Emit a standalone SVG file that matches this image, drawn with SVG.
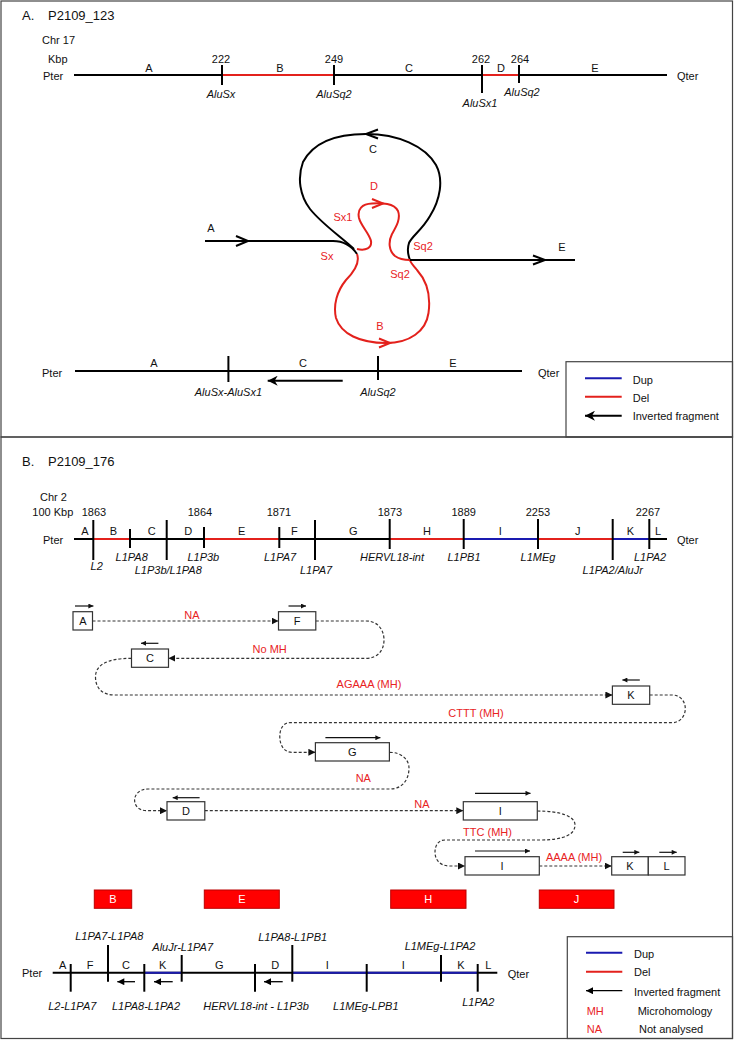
<svg xmlns="http://www.w3.org/2000/svg" width="734" height="1040" viewBox="0 0 734 1040">
<style>
text{font-family:"Liberation Sans",Arial,Helvetica,sans-serif;font-size:11px;fill:#111}
.ttl{font-size:13px}
.m{text-anchor:middle}
.i{font-style:italic}
.r{fill:#e8231f}
.w{fill:#fff}
.frame{fill:none;stroke:#444;stroke-width:1.2}
.chr{stroke:#000;stroke-width:2;fill:none}
.del{stroke:#e3211c;stroke-width:2;fill:none}
.dup{stroke:#1a1ab0;stroke-width:2;fill:none}
.tk{stroke:#000;stroke-width:2}
.loopk{stroke:#000;stroke-width:2;fill:none}
.loopr{stroke:#e3211c;stroke-width:2;fill:none}
.dash{stroke:#333;stroke-width:1.2;stroke-dasharray:3 2;fill:none;marker-end:url(#tri)}
.box{fill:#fff;stroke:#333;stroke-width:1.2}
.sa{stroke:#111;stroke-width:1.2;fill:none;marker-end:url(#sm)}
.inv{stroke:#000;stroke-width:2;fill:none;marker-end:url(#big)}
.invs{stroke:#000;stroke-width:1.3;fill:none;marker-end:url(#mid)}
.redbox{fill:#f00;stroke:#b00;stroke-width:1}
</style>
<defs>
<marker id="tri" viewBox="0 0 10 10" refX="10" refY="5" markerWidth="7" markerHeight="7" markerUnits="userSpaceOnUse" orient="auto"><path d="M0,0 L10,5 L0,10 z" fill="#111"/></marker>
<marker id="sm" viewBox="0 0 10 10" refX="10" refY="5" markerWidth="6" markerHeight="5" markerUnits="userSpaceOnUse" orient="auto"><path d="M0,0 L10,5 L0,10 z" fill="#111"/></marker>
<marker id="big" viewBox="0 0 10 10" refX="10" refY="5" markerWidth="11" markerHeight="10" markerUnits="userSpaceOnUse" orient="auto"><path d="M0,0 L10,5 L0,10 L3,5 z" fill="#000"/></marker>
<marker id="mid" viewBox="0 0 10 10" refX="10" refY="5" markerWidth="8" markerHeight="7" markerUnits="userSpaceOnUse" orient="auto"><path d="M0,0 L10,5 L0,10 z" fill="#000"/></marker>
</defs>
<rect width="734" height="1040" fill="#fff"/>

<!-- Panel A -->
<g id="panelA">
<rect class="frame" x="1" y="1" width="731.5" height="436"/>
<text class="ttl" x="22" y="19.5">A.</text>
<text class="ttl" x="48" y="19.5">P2109_123</text>
<text x="42" y="44">Chr 17</text>
<text x="48" y="63">Kbp</text>
<text x="43" y="80">Pter</text>
<text x="677" y="80">Qter</text>
<line class="chr" x1="74" y1="75" x2="667" y2="75"/>
<line class="del" x1="222" y1="75" x2="334" y2="75"/>
<line class="del" x1="482" y1="75" x2="519" y2="75"/>
<line class="tk" x1="222" y1="65" x2="222" y2="85"/>
<line class="tk" x1="334" y1="65" x2="334" y2="85"/>
<line class="tk" x1="482" y1="65" x2="482" y2="93"/>
<line class="tk" x1="519" y1="65" x2="519" y2="83"/>
<text class="m" x="221" y="63">222</text>
<text class="m" x="334" y="63">249</text>
<text class="m" x="481" y="63">262</text>
<text class="m" x="520" y="63">264</text>
<text class="m" x="149" y="72">A</text>
<text class="m" x="280" y="72">B</text>
<text class="m" x="409" y="72">C</text>
<text class="m" x="501" y="72">D</text>
<text class="m" x="595" y="72">E</text>
<text class="m i" x="221" y="98">AluSx</text>
<text class="m i" x="334" y="98">AluSq2</text>
<text class="m i" x="480" y="107">AluSx1</text>
<text class="m i" x="522" y="96">AluSq2</text>
</g>

<g id="loop">
<path class="loopk" d="M205,241 L333,241 C343,241 351,245 357,254"/>
<path class="loopk" d="M236,236 L248,241 L236,246"/>
<path class="loopk" d="M354,249 C340,236 322,224 310,209 C300,196 297,178 303,162 C312,145 332,134 366,134 C398,134 425,146 436,165 C444,180 440,200 430,216 C422,230 412,236 409,243 C407,249 408,255 410,260"/>
<path class="loopk" d="M378,129.5 L366,134 L378,138.5"/>
<path class="loopr" d="M357,254 C360,262 355,271 346,280 C337,291 333,305 336,318 C341,334 360,343 386,343 C410,343 426,331 428.5,313 C431,295 426,280 417,270 C413,265 410,262 410,260"/>
<path class="loopr" d="M379,338.5 L390,343 L379,347.5"/>
<path class="loopr" d="M357,249 C366,251 372,248 371,241 C369,233 361,226 359,218 C357,209 362,204 372,203.5 C382,203 394,203 398,211 C401,219 396,227 392,234 C388,242 389,251 395,256 C399,259 405,260 410,260"/>
<path class="loopr" d="M372,199 L383,203.5 L372,208"/>
<path class="loopk" d="M410,260 L575,260"/>
<path class="loopk" d="M533,255.5 L545,260 L533,264.5"/>
<text class="m" x="211" y="232">A</text>
<text class="m" x="373" y="153">C</text>
<text class="m r" x="374" y="190">D</text>
<text class="m r" x="343" y="221">Sx1</text>
<text class="m r" x="327" y="260">Sx</text>
<text class="m r" x="423" y="250">Sq2</text>
<text class="m r" x="400" y="278">Sq2</text>
<text class="m" x="562" y="251">E</text>
<text class="m r" x="380" y="330">B</text>
</g>

<g id="resultA">
<text x="42" y="377">Pter</text>
<text x="538" y="377">Qter</text>
<line class="chr" x1="75" y1="371" x2="522" y2="371"/>
<line class="tk" x1="228.4" y1="356" x2="228.4" y2="382"/>
<line class="tk" x1="378" y1="356" x2="378" y2="380"/>
<text class="m" x="154" y="367">A</text>
<text class="m" x="303" y="367">C</text>
<text class="m" x="453" y="367">E</text>
<line class="inv" x1="342.7" y1="380.7" x2="267.7" y2="380.7"/>
<text class="m i" x="228.4" y="396">AluSx-AluSx1</text>
<text class="m i" x="378" y="396">AluSq2</text>
</g>

<g id="legendA">
<rect x="566" y="361.7" width="166.5" height="75.3" fill="none" stroke="#444" stroke-width="1.2"/>
<line class="dup" x1="585" y1="378.3" x2="621.7" y2="378.3"/>
<text x="632.7" y="383.5">Dup</text>
<line class="del" x1="585" y1="396.7" x2="621.7" y2="396.7"/>
<text x="632.7" y="402">Del</text>
<line class="inv" x1="621.7" y1="415.7" x2="585" y2="415.7"/>
<text x="632.7" y="420">Inverted fragment</text>
</g>

<!-- Panel B -->
<g id="panelB">
<rect class="frame" x="1" y="437" width="731.5" height="601.5"/>
<text class="ttl" x="22" y="466">B.</text>
<text class="ttl" x="48" y="466">P2109_176</text>
<text x="40" y="501">Chr 2</text>
<text x="32.3" y="516">100 Kbp</text>
<text x="43" y="544">Pter</text>
<text x="677" y="544">Qter</text>
<line class="chr" x1="74" y1="539" x2="667" y2="539"/>
<line class="del" x1="93.3" y1="539" x2="130" y2="539"/>
<line class="del" x1="204" y1="539" x2="279.3" y2="539"/>
<line class="del" x1="389.7" y1="539" x2="463.7" y2="539"/>
<line class="dup" x1="463.7" y1="539" x2="538" y2="539"/>
<line class="del" x1="538" y1="539" x2="612.7" y2="539"/>
<line class="dup" x1="612.7" y1="539" x2="649.3" y2="539"/>
<line class="tk" x1="93.3" y1="520" x2="93.3" y2="560"/>
<line class="tk" x1="130" y1="529" x2="130" y2="548"/>
<line class="tk" x1="166.7" y1="520" x2="166.7" y2="560"/>
<line class="tk" x1="204" y1="527" x2="204" y2="548"/>
<line class="tk" x1="279.3" y1="527" x2="279.3" y2="548"/>
<line class="tk" x1="315" y1="520" x2="315" y2="560"/>
<line class="tk" x1="389.7" y1="519" x2="389.7" y2="549"/>
<line class="tk" x1="463.7" y1="519" x2="463.7" y2="549"/>
<line class="tk" x1="538" y1="519" x2="538" y2="549"/>
<line class="tk" x1="612.7" y1="519" x2="612.7" y2="560"/>
<line class="tk" x1="649.3" y1="519" x2="649.3" y2="549"/>
<text class="m" x="94" y="516">1863</text>
<text class="m" x="200" y="516">1864</text>
<text class="m" x="279" y="516">1871</text>
<text class="m" x="390" y="516">1873</text>
<text class="m" x="463.7" y="516">1889</text>
<text class="m" x="538" y="516">2253</text>
<text class="m" x="648" y="516">2267</text>
<text class="m" x="85" y="535">A</text>
<text class="m" x="113.3" y="535">B</text>
<text class="m" x="151.7" y="535">C</text>
<text class="m" x="188.3" y="535">D</text>
<text class="m" x="241.7" y="535">E</text>
<text class="m" x="294.3" y="535">F</text>
<text class="m" x="353.3" y="535">G</text>
<text class="m" x="427" y="535">H</text>
<text class="m" x="500.3" y="535">I</text>
<text class="m" x="577.7" y="535">J</text>
<text class="m" x="630.3" y="535">K</text>
<text class="m" x="658" y="535">L</text>
<text class="m i" x="96.7" y="570">L2</text>
<text class="m i" x="131.7" y="561">L1PA8</text>
<text class="m i" x="168.3" y="574">L1P3b/L1PA8</text>
<text class="m i" x="203.3" y="561">L1P3b</text>
<text class="m i" x="280" y="561">L1PA7</text>
<text class="m i" x="316" y="574">L1PA7</text>
<text class="m i" x="392" y="561">HERVL18-int</text>
<text class="m i" x="464" y="561">L1PB1</text>
<text class="m i" x="538" y="561">L1MEg</text>
<text class="m i" x="612.7" y="574">L1PA2/AluJr</text>
<text class="m i" x="650" y="561">L1PA2</text>
</g>

<g id="connectors">
<path class="dash" d="M92.5,621 H278.5"/>
<path class="dash" d="M315.8,621 H366 C378,621 384,630 384,640 C384,650 378,658.3 366,658.3 H168.4"/>
<path class="dash" d="M131.5,658.3 C105,658.3 95.5,666 95.5,677 C95.5,688 102,695 115,695 H612.4"/>
<path class="dash" d="M649.7,695 H672 C680,695 685.3,701 685.3,708.7 C685.3,716 680,722.7 672,722.7 H290 C283,722.7 279.8,729 279.8,736.7 C279.8,745 284,752.3 292,752.3 H315.4"/>
<path class="dash" d="M389.5,752.3 C402,752.3 409,760 409,768 C409,780 402,789 390,789 H148 C139,789 134.6,795 134.6,800 C134.6,806 139,810.7 147,810.7 H167"/>
<path class="dash" d="M204.8,810.7 H463.3"/>
<path class="dash" d="M537.3,811 C560,811 575,816 575,825 C575,834 565,840 540,840 H445 C438,840 435,846 435,852 C435,860 440,866 450,866 H465"/>
<path class="dash" d="M539.3,866 H611.7"/>
<text class="m r" x="192" y="619">NA</text>
<text class="m r" x="269.7" y="653">No MH</text>
<text class="m r" x="369" y="688">AGAAA (MH)</text>
<text class="m r" x="476" y="716.5">CTTT (MH)</text>
<text class="m r" x="363.3" y="782">NA</text>
<text class="m r" x="422" y="808">NA</text>
<text class="m r" x="487.5" y="836">TTC (MH)</text>
<text class="m r" x="574" y="860.5">AAAA (MH)</text>
</g>

<g id="nodeA"><rect class="box" x="73" y="611.7" width="19.5" height="18.3"/><text class="m" x="82.8" y="625">A</text><line class="sa" x1="75" y1="606" x2="93.4" y2="606"/></g>
<g id="nodeF"><rect class="box" x="278.5" y="611.7" width="37.3" height="18.3"/><text class="m" x="297.2" y="625">F</text><line class="sa" x1="288.5" y1="606" x2="306" y2="606"/></g>
<g id="nodeC"><rect class="box" x="131.5" y="649" width="37" height="18.3"/><text class="m" x="150" y="662.3">C</text><line class="sa" x1="158.4" y1="643.3" x2="141" y2="643.3"/></g>
<g id="nodeK1"><rect class="box" x="612.4" y="686" width="37.3" height="18.3"/><text class="m" x="631" y="699.3">K</text><line class="sa" x1="639.8" y1="680" x2="622.4" y2="680"/></g>
<g id="nodeG"><rect class="box" x="315.4" y="742.7" width="74" height="18.3"/><text class="m" x="352.4" y="756">G</text><line class="sa" x1="325.4" y1="737.7" x2="380.4" y2="737.7"/></g>
<g id="nodeD"><rect class="box" x="167" y="801.7" width="37.8" height="18.3"/><text class="m" x="185.9" y="815">D</text><line class="sa" x1="199.6" y1="797.7" x2="172.7" y2="797.7"/></g>
<g id="nodeI1"><rect class="box" x="463.3" y="801.7" width="74" height="18.3"/><text class="m" x="500.3" y="815">I</text><line class="sa" x1="475" y1="793.3" x2="530.5" y2="793.3"/></g>
<g id="nodeI2"><rect class="box" x="465" y="856.7" width="74.3" height="18.3"/><text class="m" x="502.1" y="870">I</text><line class="sa" x1="475" y1="851" x2="530" y2="851"/></g>
<g id="nodeK2"><rect class="box" x="611.7" y="856.7" width="36.6" height="18.3"/><text class="m" x="630" y="870">K</text><line class="sa" x1="622.7" y1="852.3" x2="639.3" y2="852.3"/></g>
<g id="nodeL"><rect class="box" x="648.3" y="856.7" width="36.7" height="18.3"/><text class="m" x="666.6" y="870">L</text><line class="sa" x1="659.3" y1="852.3" x2="676.7" y2="852.3"/></g>

<g id="delB"><rect class="redbox" x="94.3" y="890" width="37.4" height="18.3"/><text class="m w" x="113" y="903">B</text></g>
<g id="delE"><rect class="redbox" x="204.3" y="890" width="75" height="18.3"/><text class="m w" x="241.8" y="903">E</text></g>
<g id="delH"><rect class="redbox" x="390.7" y="890" width="75.3" height="18.3"/><text class="m w" x="428.3" y="903">H</text></g>
<g id="delJ"><rect class="redbox" x="539.3" y="890" width="74.7" height="18.3"/><text class="m w" x="576.6" y="903">J</text></g>

<g id="resultB">
<text x="22" y="977">Pter</text>
<text x="507.7" y="978">Qter</text>
<line class="chr" x1="52.7" y1="972.7" x2="497.3" y2="972.7"/>
<line class="dup" x1="144.3" y1="972.7" x2="181.7" y2="972.7"/>
<line class="dup" x1="292.3" y1="972.7" x2="477.7" y2="972.7"/>
<line class="tk" x1="70.7" y1="964" x2="70.7" y2="991.7"/>
<line class="tk" x1="108" y1="945" x2="108" y2="981.7"/>
<line class="tk" x1="144.3" y1="964" x2="144.3" y2="991.7"/>
<line class="tk" x1="181.7" y1="955" x2="181.7" y2="981.7"/>
<line class="tk" x1="255" y1="964" x2="255" y2="991.7"/>
<line class="tk" x1="292.3" y1="945" x2="292.3" y2="981.7"/>
<line class="tk" x1="366.7" y1="964" x2="366.7" y2="991.7"/>
<line class="tk" x1="441" y1="955" x2="441" y2="981.7"/>
<line class="tk" x1="477.7" y1="964" x2="477.7" y2="991.7"/>
<text class="m" x="62.7" y="969">A</text>
<text class="m" x="90" y="969">F</text>
<text class="m" x="126" y="969">C</text>
<text class="m" x="162.7" y="969">K</text>
<text class="m" x="219.3" y="969">G</text>
<text class="m" x="275.3" y="969">D</text>
<text class="m" x="327.3" y="969">I</text>
<text class="m" x="403.3" y="969">I</text>
<text class="m" x="461" y="969">K</text>
<text class="m" x="488.3" y="969">L</text>
<line class="invs" x1="135" y1="981.7" x2="117.3" y2="981.7"/>
<line class="invs" x1="172.7" y1="981.7" x2="154" y2="981.7"/>
<line class="invs" x1="282.7" y1="981.7" x2="264" y2="981.7"/>
<text class="m i" x="109.3" y="940">L1PA7-L1PA8</text>
<text class="m i" x="182.7" y="951">AluJr-L1PA7</text>
<text class="m i" x="292.7" y="941">L1PA8-L1PB1</text>
<text class="m i" x="440" y="950">L1MEg-L1PA2</text>
<text class="m i" x="72.3" y="1010">L2-L1PA7</text>
<text class="m i" x="146" y="1010">L1PA8-L1PA2</text>
<text class="m i" x="256" y="1010">HERVL18-int - L1P3b</text>
<text class="m i" x="365.8" y="1010">L1MEg-LPB1</text>
<text class="m i" x="478.3" y="1006">L1PA2</text>
</g>

<g id="legendB">
<rect x="567.3" y="936.7" width="165.2" height="101.8" fill="none" stroke="#444" stroke-width="1.2"/>
<line class="dup" x1="586" y1="952.7" x2="622.3" y2="952.7"/>
<text x="634" y="958">Dup</text>
<line class="del" x1="586" y1="971.7" x2="622.3" y2="971.7"/>
<text x="634" y="976">Del</text>
<line class="invs" x1="622.3" y1="990.7" x2="586" y2="990.7"/>
<text x="634" y="995.5">Inverted fragment</text>
<text class="r" x="586.7" y="1015">MH</text>
<text x="637.7" y="1015">Microhomology</text>
<text class="r" x="586.7" y="1033">NA</text>
<text x="639" y="1033">Not analysed</text>
</g>
</svg>
